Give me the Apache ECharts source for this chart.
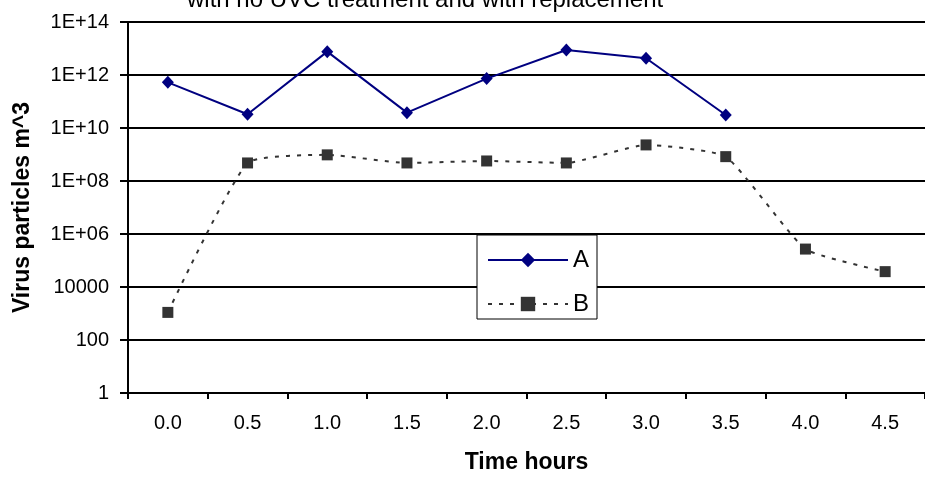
<!DOCTYPE html>
<html>
<head>
<meta charset="utf-8">
<script src="https://cdn.jsdelivr.net/npm/echarts@6/dist/echarts.min.js"></script>
<style>
  html, body { margin: 0; padding: 0; background: #fff; }
  #chart { width: 925px; height: 480px; }
</style>
</head>
<body>
<div id="chart"></div>
<script>
// Sampling times (hours)
const categories = ['0.0', '0.5', '1.0', '1.5', '2.0', '2.5', '3.0', '3.5', '4.0', '4.5'];

// Virus particles per m^3
const seriesA = [5.3e11, 3.3e10, 7.6e12, 3.8e10, 7.3e11, 8.8e12, 4.3e12, 3.1e10, null, null];
const seriesB = [1.1e3, 4.8e8, 9.7e8, 4.8e8, 5.7e8, 4.8e8, 2.3e9, 8.3e8, 2.7e5, 3.8e4];

// Log-axis labels, one per two decades
const yTickLabels = ['1', '100', '10000', '1E+06', '1E+08', '1E+10', '1E+12', '1E+14'];

const FONT = '"Liberation Sans", Arial, sans-serif';

const chart = echarts.init(document.getElementById('chart'), null, { renderer: 'canvas' });

chart.setOption({
  animation: false,
  backgroundColor: '#ffffff',
  textStyle: { fontFamily: FONT },
  graphic: [{
    type: 'text',
    left: 187,
    top: -12,
    style: {
      text: 'with no UVC treatment and with replacement',
      font: '24px ' + FONT,
      fill: '#000'
    }
  }],
  grid: { left: 128, right: -5, top: 22, bottom: 87, containLabel: false },
  legend: {
    orient: 'vertical',
    left: 477,
    top: 235,
    padding: [13, 8, 3, 10],
    itemGap: 20,
    itemWidth: 80,
    itemHeight: 18,
    backgroundColor: '#fff',
    borderColor: '#000',
    borderWidth: 1,
    borderRadius: 0,
    textStyle: { fontSize: 24, color: '#000', fontFamily: FONT },
    data: ['A', 'B']
  },
  xAxis: {
    type: 'category',
    data: categories,
    boundaryGap: true,
    name: 'Time hours',
    nameLocation: 'middle',
    nameGap: 58,
    nameTextStyle: { fontSize: 23, fontWeight: 'bold', color: '#000', fontFamily: FONT },
    axisLine: { lineStyle: { color: '#000', width: 2 } },
    axisTick: { show: true, interval: 0, alignWithLabel: false, length: 6, lineStyle: { color: '#000', width: 2 } },
    axisLabel: { interval: 0, margin: 20, fontSize: 20, color: '#000', fontFamily: FONT },
    splitLine: { show: false }
  },
  yAxis: {
    type: 'log',
    logBase: 10,
    min: 1,
    max: 1e14,
    interval: 2,
    name: 'Virus particles m^3',
    nameLocation: 'middle',
    nameGap: 94,
    nameRotate: 90,
    nameTextStyle: { fontSize: 23, fontWeight: 'bold', color: '#000', fontFamily: FONT },
    axisLine: { show: true, lineStyle: { color: '#000', width: 2 } },
    axisTick: { show: true, length: 8, inside: false, lineStyle: { color: '#000', width: 2 } },
    axisLabel: {
      margin: 19,
      fontSize: 20,
      color: '#000',
      fontFamily: FONT,
      formatter: function (v) {
        const e = Math.round(Math.log10(v));
        return yTickLabels[e / 2] !== undefined ? yTickLabels[e / 2] : '';
      }
    },
    splitLine: { show: true, lineStyle: { color: '#000', width: 2 } },
    minorTick: { show: false }
  },
  series: [
    {
      name: 'A',
      type: 'line',
      data: seriesA,
      symbol: 'diamond',
      symbolSize: [12, 13],
      itemStyle: { color: '#000080' },
      lineStyle: { color: '#000080', width: 2 },
      connectNulls: false,
      z: 3
    },
    {
      name: 'B',
      type: 'line',
      data: seriesB,
      smooth: 0.15,
      symbol: 'rect',
      symbolSize: 11,
      itemStyle: { color: '#333333' },
      lineStyle: { color: '#333333', width: 2, type: [4, 7] },
      z: 2
    }
  ]
});
</script>
</body>
</html>
